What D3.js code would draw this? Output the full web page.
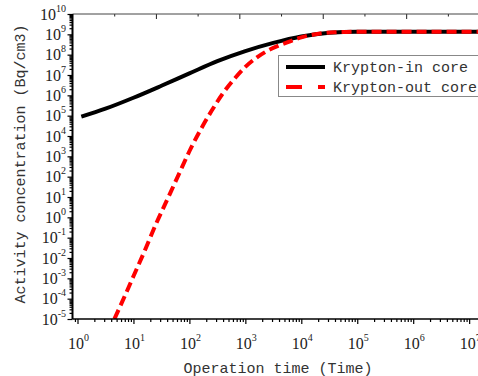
<!DOCTYPE html>
<html>
<head>
<meta charset="utf-8">
<script src="https://cdn.jsdelivr.net/npm/d3@7"></script>
<style>
  body { margin: 0; background: #fff; }
  svg { display: block; }
  .tick-lbl { font-family: "Liberation Serif", "DejaVu Serif", serif; font-size: 16px; fill: #222; }
  .title { font-family: "Liberation Mono", "DejaVu Sans Mono", monospace; font-size: 15px; fill: #333; }
</style>
</head>
<body>
<svg id="chart"></svg>
<script>
// Krypton-in core (black solid)
var inTime  = [1.17, 3.16, 10, 31.6, 100, 316, 1000, 3162, 1e4, 3.16e4, 1e5, 1e6, 1e7, 3e7];
var inConc  = [8.9e4, 2.2e5, 7.6e5, 2.95e6, 1.2e7, 4.8e7, 1.5e8, 3.8e8, 7.9e8, 1.2e9, 1.35e9, 1.35e9, 1.35e9, 1.35e9];

// Krypton-out core (red dashed)
var outTime = [4.57, 6.31, 10, 15.8, 25.1, 39.8, 63.1, 100, 158, 251, 398, 631, 1000, 1585, 2512, 3981, 6310,
               1e4, 1.58e4, 2.51e4, 3.98e4, 6.31e4, 1e5, 1e6, 1e7, 3e7];
var outConc = [1e-5, 7.1e-5, 1.26e-3, 2.2e-2, 0.45, 7.1, 112, 1780, 2.0e4, 1.78e5, 1.26e6, 6.3e6, 2.5e7, 7.1e7, 1.58e8,
               2.8e8, 4.5e8, 7.1e8, 9.5e8, 1.15e9, 1.26e9, 1.32e9, 1.35e9, 1.35e9, 1.35e9, 1.35e9];

var xExponents = [0, 1, 2, 3, 4, 5, 6, 7];
var yExponents = [-5, -4, -3, -2, -1, 0, 1, 2, 3, 4, 5, 6, 7, 8, 9, 10];
var seriesNames = ["Krypton-in core", "Krypton-out core"];

var W = 478, H = 376;
var pLeft = 72.5, pTop = 14, pBottom = 319, pRight = 500;

var svg = d3.select("#chart").attr("width", W).attr("height", H);

var x = d3.scaleLog().domain([0.814, 3.56e7]).range([pLeft, pRight]);
var y = d3.scaleLog().domain([1e-5, 1e10]).range([pBottom, pTop]);

// minor tick values
function minors(lo, hi) {
  var out = [];
  for (var e = lo; e <= hi; e++)
    for (var m = 2; m <= 9; m++) out.push(m * Math.pow(10, e));
  return out;
}

// clip
svg.append("defs").append("clipPath").attr("id", "clip")
  .append("rect").attr("x", pLeft).attr("y", pTop).attr("width", pRight - pLeft).attr("height", pBottom - pTop);

// curves
var line = d3.line().x(function(d){ return x(d[0]); }).y(function(d){ return y(d[1]); }).curve(d3.curveMonotoneX);
var g = svg.append("g").attr("clip-path", "url(#clip)");
g.append("path").datum(d3.zip(inTime, inConc)).attr("d", line)
  .style("fill", "none").style("stroke", "#000").style("stroke-width", 4);
g.append("path").datum(d3.zip(outTime, outConc)).attr("d", line)
  .style("fill", "none").style("stroke", "#f00").style("stroke-width", 4).style("stroke-dasharray", "10,5");

// bottom axis
var bx = svg.append("g").attr("transform", "translate(0," + pBottom + ")");
bx.call(d3.axisBottom(x).tickValues(minors(-1, 7).filter(function(v){ return v >= 0.814 && v <= 3.56e7; }))
  .tickSize(3).tickFormat(""));
bx.append("g").call(d3.axisBottom(x).tickValues(xExponents.map(function(e){ return Math.pow(10, e); }))
  .tickSize(5).tickFormat(""));
bx.selectAll(".domain").remove();
bx.selectAll("line").style("stroke", "#000").style("stroke-width", 1.2);

// left axis
var ly = svg.append("g").attr("transform", "translate(" + pLeft + ",0)");
ly.call(d3.axisLeft(y).tickValues(minors(-5, 9)).tickSize(3).tickFormat(""));
ly.append("g").call(d3.axisLeft(y).tickValues(yExponents.map(function(e){ return Math.pow(10, e); }))
  .tickSize(5).tickFormat(""));
ly.selectAll(".domain").remove();
ly.selectAll("line").style("stroke", "#000").style("stroke-width", 1.2);

// top axis: linear, unlabeled
var xt = d3.scaleLinear().domain([0, 10.25]).range([pLeft, pRight]);
var tx = svg.append("g").attr("transform", "translate(0," + pTop + ")");
tx.call(d3.axisTop(xt).tickValues([1, 3, 5, 7, 9]).tickSize(-2.5).tickFormat(""));
tx.append("g").call(d3.axisTop(xt).tickValues([2, 4, 6, 8, 10]).tickSize(-5).tickFormat(""));
tx.selectAll(".domain").remove();
tx.selectAll("line").style("stroke", "#222").style("stroke-width", 1);

// frame lines
svg.append("line").attr("x1", pLeft).attr("x2", pRight).attr("y1", pTop).attr("y2", pTop)
  .style("stroke", "#444").style("stroke-width", 1);
svg.append("line").attr("x1", pLeft).attr("x2", pRight).attr("y1", pBottom).attr("y2", pBottom)
  .style("stroke", "#000").style("stroke-width", 1.5);
svg.append("line").attr("x1", pLeft).attr("x2", pLeft).attr("y1", pTop).attr("y2", pBottom)
  .style("stroke", "#000").style("stroke-width", 2);

// tick labels
xExponents.forEach(function(e){
  var t = svg.append("text").attr("class", "tick-lbl")
    .attr("x", x(Math.pow(10, e)) + 1).attr("y", 349).attr("text-anchor", "middle");
  t.append("tspan").text("10");
  t.append("tspan").attr("dy", -8).style("font-size", "10px").text(e);
});
yExponents.forEach(function(e){
  var t = svg.append("text").attr("class", "tick-lbl")
    .attr("x", 66).attr("y", y(Math.pow(10, e)) + 5.5).attr("text-anchor", "end");
  t.append("tspan").text("10");
  t.append("tspan").attr("dy", -8).style("font-size", "10px").text(e);
});

// axis titles
svg.append("text").attr("class", "title").attr("x", 278).attr("y", 373)
  .attr("text-anchor", "middle").text("Operation time (Time)");
svg.append("text").attr("class", "title")
  .attr("transform", "translate(25,164) rotate(-90)")
  .attr("text-anchor", "middle").text("Activity concentration (Bq/cm3)");

// legend
var lg = svg.append("g");
lg.append("rect").attr("x", 278.5).attr("y", 55.5).attr("width", 230).attr("height", 41)
  .style("fill", "#fff").style("stroke", "#888").style("stroke-width", 1);
var styles = [{c: "#000", d: null}, {c: "#f00", d: "16,16"}];
seriesNames.forEach(function(name, i){
  var yy = 67 + i * 20;
  lg.append("line").attr("x1", 286).attr("x2", 325).attr("y1", yy).attr("y2", yy)
    .style("stroke", styles[i].c).style("stroke-width", 4).style("stroke-dasharray", styles[i].d);
  lg.append("text").attr("class", "title").attr("x", 333).attr("y", yy + 5).text(name);
});
</script>
</body>
</html>
